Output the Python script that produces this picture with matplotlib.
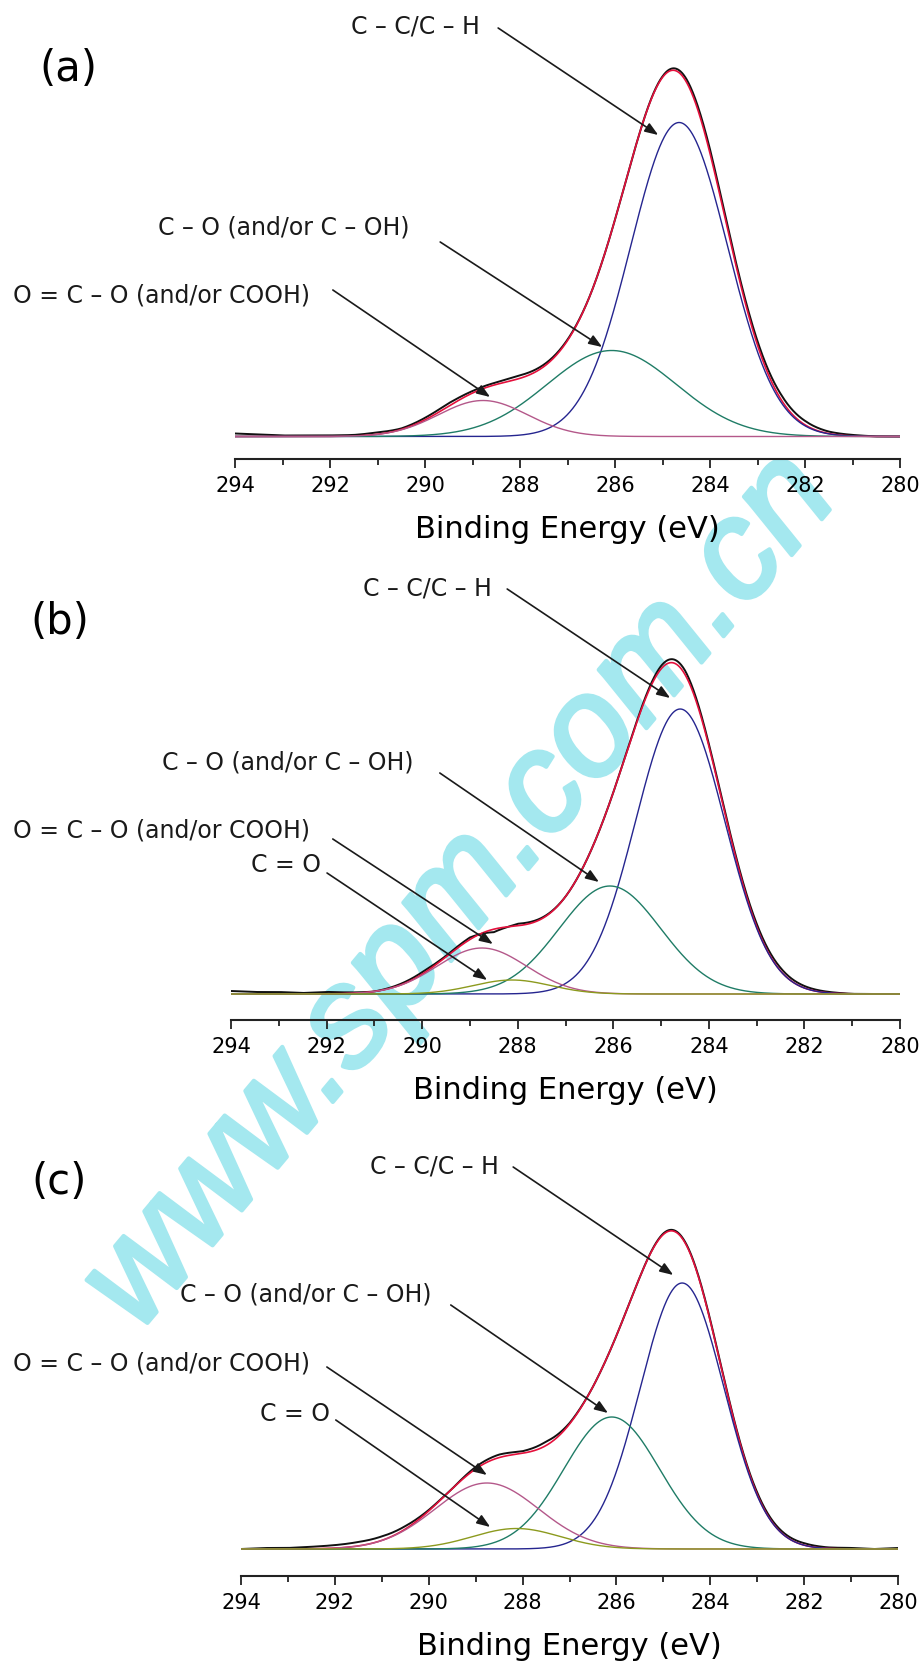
import numpy as np
import matplotlib
matplotlib.use("Agg")
import matplotlib.pyplot as plt
import matplotlib.patheffects as pe
from matplotlib.ticker import MultipleLocator

# C1s XPS fits for three samples (a), (b), (c)
# intensities are in arbitrary units

panel_tags = ["(a)", "(b)", "(c)"]

# fitted components: centre (eV), height (a.u.), FWHM (eV)
cc_center = [284.65, 284.60, 284.60]
cc_height = [314, 285, 266]
cc_fwhm = [2.4, 2.2, 2.1]

co_center = [286.07, 286.07, 286.10]
co_height = [86, 108, 132]
co_fwhm = [3.2, 2.5, 2.4]

oco_center = [288.78, 288.75, 288.76]
oco_height = [36, 46, 66]
oco_fwhm = [2.2, 2.2, 2.6]

cdo_center = [288.1, 288.12, 288.13]
cdo_height = [0, 14, 20.5]     # no C=O component in (a)
cdo_fwhm = [1.9, 1.9, 2.2]

# measured spectrum minus fitted envelope, read every 0.5 eV from 294 to 280 eV
resid_energy = [294, 293.5, 293, 292.5, 292, 291.5, 291, 290.5, 290, 289.5,
                289, 288.5, 288, 287.5, 287, 286.5, 286, 285.5, 285, 284.5,
                284, 283.5, 283, 282.5, 282, 281.5, 281, 280.5, 280]
resid_a = [3, 2, 1, 1, 1, 1, 2, 1, 2, 3, 2, 2, 3, 2, 1, 0, 0, 0, 1, 3,
           4, 3, 4, 5, 4, 2, 1, 0, 0]
resid_b = [3, 2, 2, 1, 2, 1, 0, 1, 2, 1, 2, -3, 2, 1, 0, 0, 0, 1, 3, 4,
           2, 2, 3, 3, 2, 1, 0, 0, 0]
resid_c = [0, 1, 1, 2, 3, 4, 4, 3, 1, 0, 2, 3, 2, 4, 1, 0, 0, 0, 1, 1,
           1, 1, 2, 2, 2, 1, 1, 0, 1]
residuals = [resid_a, resid_b, resid_c]

label_cc = "C – C/C – H"
label_co = "C – O (and/or C – OH)"
label_oco = "O = C – O (and/or COOH)"
label_cdo = "C = O"

# layout in pixels of the 922 x 1665 image
W, H, DPI = 922, 1665, 100
panels = [
    dict(left=235, right=900, axis_y=460, top=0, base=437.5, tag=(68, 69)),
    dict(left=231, right=900, axis_y=1021, top=560, base=995, tag=(60, 622)),
    dict(left=241, right=898, axis_y=1577, top=1110, base=1550, tag=(59, 1182)),
]
# annotation layout: (text, text left E, text y, arrow start, arrow tip) in data units
notes = [
    [(label_cc, 291.56, 410.5, (288.46, 408.5), (285.09, 301.5)),
     (label_co, 295.62, 210.5, (289.68, 194.5), (286.27, 89.5)),
     (label_oco, 298.67, 141.5, (291.94, 146.5), (288.63, 39.5))],
    [(label_cc, 291.24, 406, (288.22, 405), (284.81, 296)),
     (label_co, 295.44, 232, (289.63, 221), (286.30, 112)),
     (label_oco, 298.56, 164, (291.87, 155), (288.52, 50)),
     (label_cdo, 293.58, 130, (291.99, 121), (288.64, 14))],
    [(label_cc, 291.25, 383, (288.20, 382), (284.79, 274)),
     (label_co, 295.30, 255, (289.53, 244), (286.18, 136)),
     (label_oco, 298.86, 186, (292.17, 182), (288.76, 74)),
     (label_cdo, 293.60, 136, (291.98, 129), (288.69, 22))],
]

colors = dict(meas="#111111", env="#e4103c", cc="#25258f", co="#1f7c66",
              oco="#b4588a", cdo="#8c9a1e")


def gauss(x, c, h, fwhm):
    return h * np.exp(-4 * np.log(2) * (x - c) ** 2 / fwhm ** 2)


plt.rcParams["font.family"] = "DejaVu Sans"
fig = plt.figure(figsize=(W / DPI, H / DPI), dpi=DPI)

energy = np.linspace(294, 280, 1401)

for i, p in enumerate(panels):
    ax = fig.add_axes([p["left"] / W, 1 - p["axis_y"] / H,
                       (p["right"] - p["left"]) / W, (p["axis_y"] - p["top"]) / H])
    ax.patch.set_alpha(0)

    comps = [
        (gauss(energy, cc_center[i], cc_height[i], cc_fwhm[i]), colors["cc"]),
        (gauss(energy, co_center[i], co_height[i], co_fwhm[i]), colors["co"]),
        (gauss(energy, oco_center[i], oco_height[i], oco_fwhm[i]), colors["oco"]),
    ]
    if cdo_height[i] > 0:
        comps.append((gauss(energy, cdo_center[i], cdo_height[i], cdo_fwhm[i]),
                      colors["cdo"]))
    envelope = sum(c for c, _ in comps)
    measured = envelope + np.interp(energy, resid_energy[::-1], residuals[i][::-1])

    ax.plot(energy, measured, color=colors["meas"], lw=1.4)
    ax.plot(energy, envelope, color=colors["env"], lw=1.2)
    for curve, col in comps:
        ax.plot(energy, curve, color=col, lw=1.0)

    for text, tx, ty, start, tip in notes[i]:
        ax.text(tx, ty, text, fontsize=17, ha="left", va="center",
                color="#1a1a1a", clip_on=False)
        ax.annotate("", xy=tip, xytext=start, annotation_clip=False,
                    arrowprops=dict(arrowstyle="-|>,head_length=0.8,head_width=0.3",
                                    color="#1a1a1a", lw=1.2, mutation_scale=10,
                                    shrinkA=0, shrinkB=0))

    ax.set_xlim(294, 280)
    ax.set_ylim(-(p["axis_y"] - p["base"]), p["base"] - p["top"])
    for side in ["left", "right", "top"]:
        ax.spines[side].set_visible(False)
    ax.spines["bottom"].set_linewidth(1.5)
    ax.spines["bottom"].set_color("#222222")
    ax.set_yticks([])
    ax.xaxis.set_major_locator(MultipleLocator(2))
    ax.xaxis.set_minor_locator(MultipleLocator(1))
    ax.tick_params(axis="x", which="major", direction="out", length=6.5,
                   width=1.3, labelsize=15, pad=5, color="#222222")
    ax.tick_params(axis="x", which="minor", direction="out", length=4,
                   width=1.3, color="#222222")
    ax.set_xlabel("Binding Energy (eV)", fontsize=22, labelpad=14)

    fig.text(p["tag"][0] / W, 1 - p["tag"][1] / H, panel_tags[i], fontsize=30,
             ha="center", va="center")

# site watermark running across the figure
wm_color = "#a4e8ef"
fig.text(462 / W, 1 - 893 / H, "www.spm.com.cn", fontsize=101,
         family="Liberation Sans", style="italic", color=wm_color,
         rotation=50, rotation_mode="anchor", ha="center", va="center", zorder=-1,
         path_effects=[pe.withStroke(linewidth=3, foreground=wm_color)])

fig.savefig("out.png", dpi=DPI)
